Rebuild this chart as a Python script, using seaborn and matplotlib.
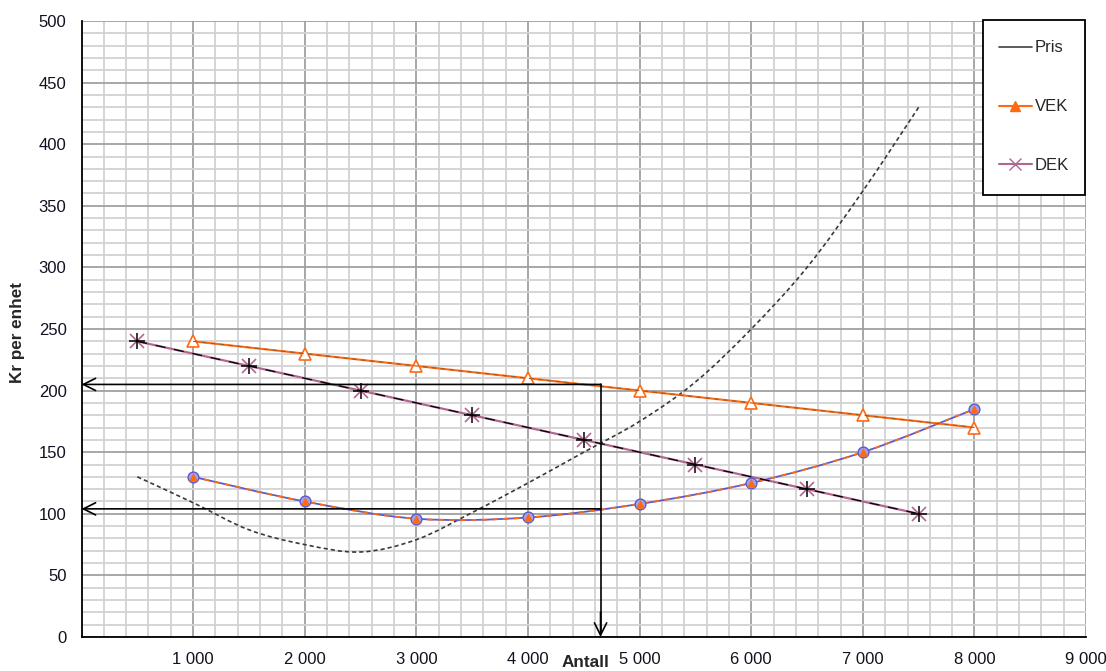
import numpy as np
import pandas as pd
import matplotlib
matplotlib.use("Agg")
import matplotlib.pyplot as plt
from matplotlib.lines import Line2D
from matplotlib.path import Path
from matplotlib.patches import PathPatch, Rectangle
import seaborn as sns

# Price curve (kr per unit), every 500 units
pris_x = [500, 1000, 1500, 2000, 2500, 3000, 3500, 4000, 4500, 5000, 5500, 6000, 6500, 7000, 7500]
pris_y = [130, 109, 87, 75, 69, 79, 101, 125, 150, 175, 207, 250, 300, 362, 430]

# Variable cost per unit
vek_x = [1000, 2000, 3000, 4000, 5000, 6000, 7000, 8000]
vek_y = [240, 230, 220, 210, 200, 190, 180, 170]

# Contribution per unit
dek_x = [500, 1500, 2500, 3500, 4500, 5500, 6500, 7500]
dek_y = [240, 220, 200, 180, 160, 140, 120, 100]

# Average cost curve
gjs_x = [1000, 2000, 3000, 4000, 5000, 6000, 7000, 8000]
gjs_y = [130, 110, 96, 97, 108, 125, 150, 185]

# Optimum read-off
opt_antall = 4650
opt_pris = 205
opt_kost = 104

x_ticks = [1000, 2000, 3000, 4000, 5000, 6000, 7000, 8000, 9000]
y_ticks = list(range(0, 501, 50))

sns.set_style("white")
plt.rcParams['font.family'] = ['Liberation Sans', 'DejaVu Sans']

W, H = 1106, 671
fig = plt.figure(figsize=(W / 100, H / 100), dpi=100)
ax = fig.add_axes([0.0737, 0.0507, 0.9083, 0.918])

ORANGE = '#ff6a10'
PINK = '#b3668f'
BLUE = '#5a5ad0'


def smooth_path(xs, ys):
    """Smoothed chart line: Catmull-Rom segments as cubic Bezier curves."""
    p = np.column_stack([xs, ys]).astype(float)
    ext = np.vstack([p[0], p, p[-1]])
    verts = [tuple(p[0])]
    codes = [Path.MOVETO]
    for i in range(1, len(ext) - 2):
        p0, p1, p2, p3 = ext[i - 1], ext[i], ext[i + 1], ext[i + 2]
        c1 = p1 + (p2 - p0) / 6.0
        c2 = p2 - (p3 - p1) / 6.0
        verts += [tuple(c1), tuple(c2), tuple(p2)]
        codes += [Path.CURVE4] * 3
    return Path(verts, codes)


def add_curve(xs, ys, **kw):
    ax.add_patch(PathPatch(smooth_path(xs, ys), facecolor='none',
                           transform=ax.transData, capstyle='butt', **kw))


# Average cost: smoothed blue line with orange dashes, circle + triangle markers
add_curve(gjs_x, gjs_y, edgecolor=BLUE, lw=1.3, zorder=4)
add_curve(gjs_x, gjs_y, edgecolor=ORANGE, lw=1.3, linestyle=(0, (3, 3)), zorder=4)
df_g = pd.DataFrame({'x': gjs_x, 'y': gjs_y})
sns.scatterplot(data=df_g, x='x', y='y', ax=ax, marker='o', s=60,
                color='#a0a2ea', edgecolor=BLUE, linewidth=1.0, zorder=5)
sns.scatterplot(data=df_g, x='x', y='y', ax=ax, marker='^', s=30,
                color=ORANGE, edgecolor=ORANGE, linewidth=0.5, zorder=6)

# VEK: orange line with open triangles
df_v = pd.DataFrame({'x': vek_x, 'y': vek_y})
sns.lineplot(data=df_v, x='x', y='y', ax=ax, color=ORANGE, lw=1.5,
             marker='^', markersize=9, markerfacecolor='white',
             markeredgecolor=ORANGE, markeredgewidth=1.2, zorder=4)
sns.lineplot(data=df_v, x='x', y='y', ax=ax, color='#9a5a2a', lw=0.8,
             linestyle=(0, (4, 4)), zorder=4)

# DEK: pink line with black dash overlay, asterisk markers
df_d = pd.DataFrame({'x': dek_x, 'y': dek_y})
sns.lineplot(data=df_d, x='x', y='y', ax=ax, color=PINK, lw=1.6,
             marker='x', markersize=10, markeredgecolor=PINK,
             markeredgewidth=1.2, zorder=4)
sns.lineplot(data=df_d, x='x', y='y', ax=ax, color='black', lw=0.9,
             linestyle=(0, (8, 7)), marker='+', markersize=11,
             markeredgecolor='black', markeredgewidth=1.1, zorder=5)

# Pris: smoothed dashed dark curve
add_curve(pris_x, pris_y, edgecolor='#3a3a3a', lw=1.2,
          linestyle=(0, (2.5, 1.8)), zorder=3)

# Read-off arrows
arrow = dict(arrowstyle='->', color='black', lw=1.2, mutation_scale=22,
             shrinkA=0, shrinkB=0)
ax.plot([opt_antall, opt_antall], [opt_pris, 3], color='black', lw=1.2, zorder=6)
ax.annotate('', xy=(opt_antall, 0), xytext=(opt_antall, 20), arrowprops=arrow, zorder=6)
ax.annotate('', xy=(0, opt_pris), xytext=(opt_antall, opt_pris), arrowprops=arrow, zorder=6)
ax.annotate('', xy=(0, opt_kost), xytext=(opt_antall, opt_kost), arrowprops=arrow, zorder=6)

# Axes, ticks and grid
ax.set_xlim(0, 9000)
ax.set_ylim(0, 500)
ax.set_xticks(x_ticks)
ax.set_xticklabels([f"{v:,}".replace(",", " ") for v in x_ticks])
ax.set_xticks(np.arange(0, 9001, 200), minor=True)
ax.set_yticks(y_ticks)
ax.set_yticklabels([str(v) for v in y_ticks])
ax.set_yticks(np.arange(0, 501, 10), minor=True)
ax.grid(which='minor', color='#d2d2d2', lw=1.3)
ax.grid(which='major', color='#a0a0a0', lw=1.3)
ax.set_axisbelow(True)
ax.tick_params(which='major', direction='out', length=4.3, width=1.2,
               color='black', labelsize=12, labelcolor='#111122')
ax.tick_params(axis='x', pad=6.5)
ax.tick_params(axis='y', pad=6.5)
ax.tick_params(which='minor', length=0)
for side in ['top', 'right']:
    ax.spines[side].set_visible(False)
for side in ['left', 'bottom']:
    ax.spines[side].set_color('black')
    ax.spines[side].set_linewidth(1.3)
ax.set_xlabel('')
ax.set_ylabel('')

fig.text(586 / W, 1 / H, 'Antall', ha='center', va='bottom',
         fontsize=12.3, fontweight='bold')
fig.text(18 / W, 1 - 332 / H, 'Kr per enhet', ha='center', va='center',
         rotation=90, fontsize=12.3, fontweight='bold')

# Legend: boxed panel in the upper right corner
ax.add_patch(Rectangle((983 / W, 1 - 195 / H), 102 / W, 175 / H,
                       transform=fig.transFigure, facecolor='white',
                       edgecolor='black', lw=1.3, clip_on=False, zorder=9))
handles = [
    Line2D([], [], color='#404040', lw=1.2),
    Line2D([], [], color=ORANGE, lw=1.5, marker='^', markersize=7,
           markerfacecolor=ORANGE, markeredgecolor=ORANGE),
    Line2D([], [], color=PINK, lw=1.5, marker='x', markersize=8,
           markeredgecolor=PINK),
]
leg = ax.legend(handles, ['Pris', 'VEK', 'DEK'], loc='upper left',
                bbox_to_anchor=(999 / W, 1 - 40.5 / H),
                bbox_transform=fig.transFigure, frameon=False, fontsize=12,
                labelspacing=2.63, borderpad=0, handlelength=1.95,
                handletextpad=0.2, borderaxespad=0)
leg.set_zorder(10)

fig.savefig('out.png', dpi=100)
